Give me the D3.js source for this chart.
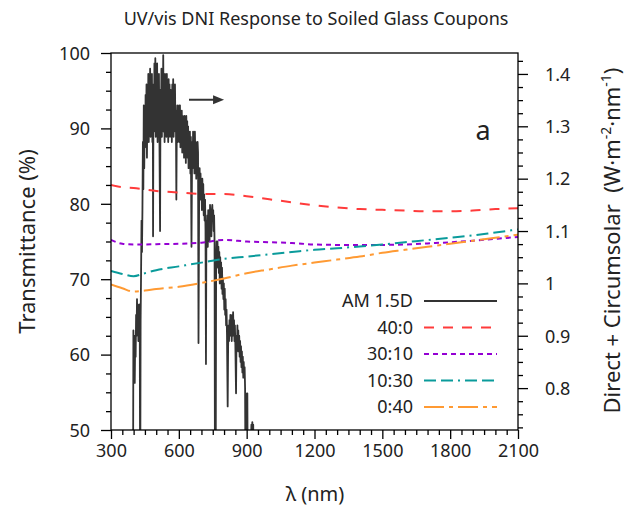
<!DOCTYPE html>
<html>
<head>
<meta charset="utf-8">
<script src="https://cdn.jsdelivr.net/npm/d3@7"></script>
<style>
  body { margin: 0; background: #fff; }
  text { font-family: "Noto Sans", sans-serif; fill: #222; white-space: pre; }
</style>
</head>
<body>
<svg id="chart" width="635" height="511"></svg>
<script>
// wavelengths (nm) for the transmittance curves
const wavelengths = [300, 350, 400, 450, 500, 600, 700, 800, 900, 1000, 1100, 1200, 1300, 1400, 1500, 1600, 1700, 1800, 1900, 2000, 2100];

// transmittance (%) of each coupon
const t40_0  = [82.5, 82.2, 82.1, 81.9, 81.7, 81.5, 81.3, 81.3, 81.0, 80.6, 80.2, 79.8, 79.5, 79.3, 79.2, 79.1, 79.0, 79.0, 79.1, 79.3, 79.4];
const t30_10 = [75.2, 74.7, 74.6, 74.6, 74.65, 74.7, 74.85, 75.2, 75.0, 74.9, 74.8, 74.6, 74.55, 74.55, 74.55, 74.6, 74.75, 74.9, 75.1, 75.35, 75.6];
const t10_30 = [71.1, 70.7, 70.4, 70.8, 71.2, 71.7, 72.2, 72.7, 73.0, 73.3, 73.6, 73.9, 74.1, 74.35, 74.6, 74.9, 75.2, 75.5, 75.8, 76.2, 76.6];
const t0_40  = [69.3, 68.8, 68.35, 68.5, 68.7, 69.0, 69.5, 70.1, 70.8, 71.3, 71.8, 72.2, 72.6, 73.0, 73.5, 73.9, 74.3, 74.7, 75.1, 75.5, 75.9];

// AM 1.5D direct + circumsolar spectrum, [nm, W m-2 nm-1]
const am15d = [
  [370,0.55],[385,0.62],[395,0.70],[397,0.50],[399,0.91],[401,0.84],[403,0.90],[405,0.81],[407,0.89],[409,0.86],
  [411,0.94],[413,0.90],[415,0.97],[417,0.91],[419,0.96],[421,0.89],[423,0.95],[425,0.92],[427,0.96],[429,0.55],
  [431,0.93],[433,1.02],[435,1.12],[437,1.06],[439,1.14],[441,1.27],[443,1.18],[445,1.34],[447,1.22],[449,1.30],
  [451,1.26],[453,1.36],[455,1.28],[457,1.38],[459,1.24],[461,1.35],[463,1.30],[465,1.40],[467,1.27],[469,1.39],
  [471,1.33],[473,1.41],[475,1.28],[477,1.39],[479,1.31],[481,1.40],[483,1.27],[485,1.36],[486,1.09],[488,1.38],
  [490,1.29],[492,1.42],[494,1.30],[496,1.43],[498,1.28],[500,1.40],[502,1.31],[504,1.42],[506,1.27],[508,1.39],
  [510,1.30],[512,1.40],[514,1.29],[517,1.10],[519,1.37],[521,1.30],[523,1.41],[525,1.28],[527,1.40],[529,1.31],
  [531,1.436],[533,1.29],[535,1.38],[537,1.27],[539,1.40],[541,1.30],[543,1.39],[545,1.28],[547,1.40],[549,1.31],
  [551,1.38],[553,1.27],[555,1.39],[557,1.30],[559,1.38],[561,1.28],[563,1.37],[565,1.29],[567,1.36],[569,1.27],
  [571,1.38],[573,1.30],[575,1.39],[577,1.28],[579,1.37],[581,1.30],[583,1.38],[585,1.29],[587,1.33],[589,1.16],
  [591,1.30],[593,1.34],[595,1.27],[597,1.33],[599,1.28],[601,1.34],[603,1.27],[605,1.34],[607,1.26],[609,1.32],
  [611,1.28],[613,1.33],[615,1.25],[617,1.32],[619,1.27],[621,1.31],[623,1.24],[625,1.32],[627,1.26],[629,1.31],
  [631,1.23],[633,1.32],[635,1.26],[637,1.31],[639,1.24],[641,1.30],[643,1.22],[645,1.29],[647,1.25],[649,1.29],
  [651,1.21],[653,1.28],[656,1.07],[659,1.27],[661,1.22],[663,1.29],[665,1.23],[667,1.28],[669,1.21],[671,1.29],
  [673,1.24],[675,1.27],[677,1.20],[679,1.26],[681,1.22],[683,1.27],[685,1.25],[687,0.886],[690,1.18],[692,1.22],
  [694,1.16],[696,1.21],[698,1.17],[700,1.20],[702,1.14],[704,1.20],[706,1.15],[708,1.19],[710,1.13],[712,1.17],
  [714,1.12],[716,1.16],[718,1.10],[720,0.846],[722,1.12],[724,1.09],[726,1.13],[728,1.07],[730,1.14],[732,1.10],
  [734,1.14],[736,1.08],[738,1.15],[740,1.11],[742,1.14],[744,1.09],[746,1.14],[748,1.15],[750,1.12],[752,1.14],
  [754,1.10],[756,1.13],[758,1.08],[760,0.55],[763,0.60],[765,1.05],[767,1.08],[769,1.04],[771,1.08],[773,1.03],
  [775,1.07],[777,1.02],[779,1.06],[781,1.00],[783,1.05],[785,1.01],[787,1.04],[789,0.99],[791,1.03],[793,0.98],
  [795,1.01],[797,0.97],[799,1.00],[801,0.95],[803,0.99],[805,0.94],[807,0.97],[809,0.92],[811,0.95],[813,0.90],
  [816,0.765],[818,0.88],[820,0.92],[822,0.89],[824,0.93],[826,0.90],[828,0.94],[830,0.91],[832,0.93],[834,0.89],
  [836,0.94],[838,0.90],[840,0.945],[842,0.91],[844,0.93],[846,0.89],[848,0.92],[850,0.88],[853,0.79],[855,0.90],
  [857,0.87],[859,0.92],[861,0.88],[863,0.91],[865,0.87],[867,0.90],[869,0.86],[871,0.89],[873,0.85],[875,0.88],
  [877,0.84],[879,0.87],[881,0.83],[883,0.86],[885,0.82],[887,0.85],[889,0.82],[891,0.84],[893,0.80],[895,0.60],
  [898,0.65],[901,0.79],[903,0.79],[905,0.60],[910,0.55],[915,0.65],[919,0.70],[921,0.73],[923,0.72],[925,0.735],
  [927,0.72],[929,0.73],[931,0.60],[940,0.50]
];

const seriesNames = ["40:0", "30:10", "10:30", "0:40"];
const legendNames = ["AM 1.5D", ...seriesNames];

const xTicks = [300, 600, 900, 1200, 1500, 1800, 2100];
const yLeftTicks = [50, 60, 70, 80, 90, 100];
const yRightTicks = [0.8, 0.9, 1.0, 1.1, 1.2, 1.3, 1.4];

const colors = ["#ff3b3b", "#9400d3", "#0a9b9b", "#ff9a33"];
const dashes = ["10,9", "5,4", "12,5,12,5,2,5", "20,5,4,5"];

const margin = { top: 53, right: 117, bottom: 81, left: 111 };
const W = 635, H = 511;
const iw = W - margin.left - margin.right;
const ih = H - margin.top - margin.bottom;

const svg = d3.select("#chart");
const g = svg.append("g").attr("transform", `translate(${margin.left},${margin.top})`);

const x = d3.scaleLinear().domain([300, 2100]).range([0, iw]);
const yL = d3.scaleLinear().domain([50, 100]).range([ih, 0]);
const yR = d3.scaleLinear().domain([0.72, 1.44]).range([ih, 0]);

g.append("clipPath").attr("id", "clip")
  .append("rect").attr("width", iw).attr("height", ih);

const plot = g.append("g").attr("clip-path", "url(#clip)");

// spectrum on the right axis
plot.append("path")
  .datum(am15d)
  .attr("fill", "none")
  .attr("stroke", "#333")
  .attr("stroke-width", 1.8)
  .attr("stroke-linejoin", "round")
  .attr("d", d3.line().x(d => x(d[0])).y(d => yR(d[1])));

// transmittance curves
const tSeries = [t40_0, t30_10, t10_30, t0_40];
const lineT = d3.line().x((d, i) => x(wavelengths[i])).y(d => yL(d)).curve(d3.curveMonotoneX);
tSeries.forEach((s, i) => {
  plot.append("path")
    .datum(s)
    .attr("fill", "none")
    .attr("stroke", colors[i])
    .attr("stroke-width", 2)
    .attr("stroke-dasharray", dashes[i])
    .attr("d", lineT);
});

// frame
g.append("rect").attr("width", iw).attr("height", ih)
  .attr("fill", "none").attr("stroke", "#000").attr("stroke-width", 1.3);

// axes
const fs = "18px";
const xAxis = g.append("g").attr("transform", `translate(0,${ih})`)
  .call(d3.axisBottom(x).tickValues(d3.range(300, 2101, 50)).tickSize(5).tickFormat(""));
xAxis.selectAll(".tick line").filter(d => xTicks.includes(d)).attr("y2", 9);
xAxis.selectAll(".tick").filter(d => xTicks.includes(d)).append("text")
  .attr("y", 27).attr("text-anchor", "middle").style("font-size", fs).text(d => d);

const yAxisL = g.append("g")
  .call(d3.axisLeft(yL).tickValues(d3.range(50, 100.01, 2.5)).tickSize(5).tickFormat(""));
yAxisL.selectAll(".tick line").filter(d => yLeftTicks.includes(d)).attr("x2", -10);
yAxisL.selectAll(".tick").filter(d => yLeftTicks.includes(d)).append("text")
  .attr("x", -21).attr("dy", "0.35em").attr("text-anchor", "end").style("font-size", fs).text(d => d);

const isMajorR = d => yRightTicks.some(t => Math.abs(t - d) < 1e-6);
const yAxisR = g.append("g").attr("transform", `translate(${iw},0)`)
  .call(d3.axisRight(yR).tickValues(d3.range(0, 29).map(k => 0.725 + k * 0.025)).tickSize(5).tickFormat(""));
yAxisR.selectAll(".tick line").filter(isMajorR).attr("x2", 10);
yAxisR.selectAll(".tick").filter(isMajorR).append("text")
  .attr("x", 27).attr("dy", "0.35em").attr("text-anchor", "start").style("font-size", fs)
  .text(d => String(+d.toFixed(1)));

[xAxis, yAxisL, yAxisR].forEach(a => {
  a.select(".domain").remove();
  a.selectAll(".tick line").attr("stroke", "#000").attr("stroke-width", 1.3);
});

// titles
svg.append("text").attr("x", 316).attr("y", 25).attr("text-anchor", "middle")
  .style("font-size", "18px").text("UV/vis DNI Response to Soiled Glass Coupons");

svg.append("text").attr("x", 315).attr("y", 501).attr("text-anchor", "middle")
  .style("font-size", "20px").text("λ (nm)");

svg.append("text").attr("transform", `translate(35,${margin.top + ih / 2}) rotate(-90)`)
  .attr("text-anchor", "middle").style("font-size", "22px").text("Transmittance (%)");

const rt = svg.append("text").attr("transform", `translate(620,${margin.top + ih / 2 - 1}) rotate(-90)`)
  .attr("text-anchor", "middle").style("font-size", "22px");
rt.append("tspan").text("Direct + Circumsolar  (W·m");
rt.append("tspan").attr("baseline-shift", "super").style("font-size", "14px").text("-2");
rt.append("tspan").text("·nm");
rt.append("tspan").attr("baseline-shift", "super").style("font-size", "14px").text("-1");
rt.append("tspan").text(")");

// panel letter
g.append("text").attr("x", iw - 35).attr("y", 87).attr("text-anchor", "middle")
  .style("font-size", "27px").text("a");

// arrow pointing to the right axis
const ax0 = x(645), ax1 = x(800), ay = yL(93.8);
g.append("line").attr("x1", ax0).attr("x2", ax1 - 8).attr("y1", ay).attr("y2", ay)
  .attr("stroke", "#333").attr("stroke-width", 2);
g.append("path").attr("d", `M${ax1},${ay} L${ax1 - 11},${ay - 4.5} L${ax1 - 11},${ay + 4.5} Z`).attr("fill", "#333");

// legend
const leg = g.append("g").attr("transform", `translate(${iw - 105},${248})`);
legendNames.forEach((name, i) => {
  const row = leg.append("g").attr("transform", `translate(0,${i * 26.5})`);
  row.append("text").attr("x", 0).attr("dy", "0.35em").attr("text-anchor", "end")
    .style("font-size", fs).text(name);
  row.append("line").attr("x1", 11).attr("x2", 84).attr("y1", 0).attr("y2", 0)
    .attr("stroke", i === 0 ? "#333" : colors[i - 1]).attr("stroke-width", 2)
    .attr("stroke-dasharray", i === 0 ? null : dashes[i - 1]);
});
</script>
</body>
</html>
